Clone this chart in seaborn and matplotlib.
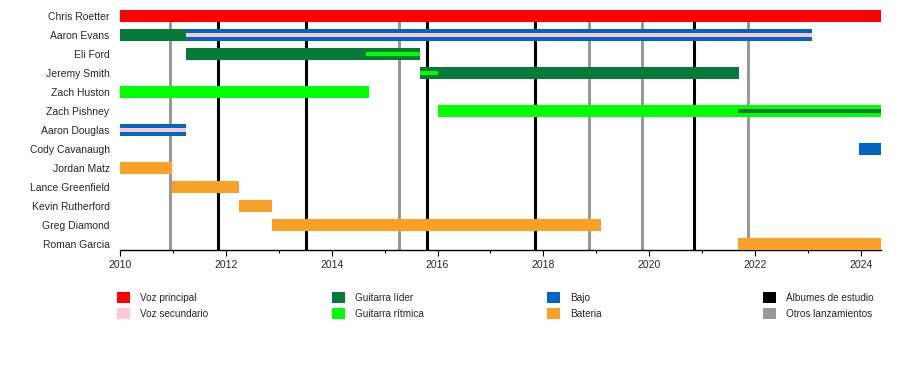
import matplotlib as mpl
import matplotlib.pyplot as plt
import seaborn as sns
from matplotlib.patches import Patch
from matplotlib.ticker import MultipleLocator

sns.set_theme(style="white")
plt.rcParams['font.family'] = ['Liberation Sans', 'DejaVu Sans']

# Members (top to bottom)
members = ["Chris Roetter", "Aaron Evans", "Eli Ford", "Jeremy Smith", "Zach Huston",
           "Zach Pishney", "Aaron Douglas", "Cody Cavanaugh", "Jordan Matz",
           "Lance Greenfield", "Kevin Rutherford", "Greg Diamond", "Roman Garcia"]

end_date = 2024.38

# Role bars: member, start, end, role, kind ("full" bar or thin "stripe" on top)
seg_member = ["Chris Roetter", "Aaron Evans", "Aaron Evans", "Aaron Evans",
              "Eli Ford", "Eli Ford", "Jeremy Smith", "Jeremy Smith",
              "Zach Huston", "Zach Pishney", "Zach Pishney",
              "Aaron Douglas", "Aaron Douglas", "Cody Cavanaugh",
              "Jordan Matz", "Lance Greenfield", "Kevin Rutherford",
              "Greg Diamond", "Roman Garcia"]
seg_start = [2010.0, 2010.0, 2011.25, 2011.25,
             2011.25, 2014.65, 2015.67, 2015.67,
             2010.0, 2016.0, 2021.68,
             2010.0, 2010.0, 2023.97,
             2010.0, 2010.98, 2012.25,
             2012.87, 2021.68]
seg_end = [end_date, 2011.25, 2023.08, 2023.08,
           2015.67, 2015.67, 2021.70, 2016.0,
           2014.71, end_date, end_date,
           2011.25, 2011.25, end_date,
           2010.98, 2012.25, 2012.87,
           2019.09, end_date]
seg_role = ["Voz principal", "Guitarra líder", "Bajo", "Voz secundario",
            "Guitarra líder", "Guitarra rítmica", "Guitarra líder", "Guitarra rítmica",
            "Guitarra rítmica", "Guitarra rítmica", "Guitarra líder",
            "Bajo", "Voz secundario", "Bajo",
            "Bateria", "Bateria", "Bateria",
            "Bateria", "Bateria"]
seg_kind = ["full", "full", "full", "stripe",
            "full", "stripe", "full", "stripe",
            "full", "full", "stripe",
            "full", "stripe", "full",
            "full", "full", "full",
            "full", "full"]

# Release lines
studio_albums = [2011.86, 2013.52, 2015.81, 2017.85, 2020.84]
other_releases = [2010.95, 2015.27, 2018.87, 2019.87, 2021.86]

role_colors = {
    "Voz principal": "#FF0000",
    "Voz secundario": "#FFC8CE",
    "Guitarra líder": "#067A38",
    "Guitarra rítmica": "#00FF00",
    "Bajo": "#0066C6",
    "Bateria": "#FBA026",
}
line_colors = {"Álbumes de estudio": "#000000", "Otros lanzamientos": "#999999"}

fig = plt.figure(figsize=(9, 3.7), dpi=100)
ax = fig.add_axes([120 / 900, 1 - 250 / 370, 761 / 900, 240 / 370])

ax.vlines(other_releases, -1, 13, color=line_colors["Otros lanzamientos"], lw=2.2, zorder=1)
ax.vlines(studio_albums, -1, 13, color=line_colors["Álbumes de estudio"], lw=2.2, zorder=1)

ypos = {m: i for i, m in enumerate(members)}
for m, s, e, r, k in zip(seg_member, seg_start, seg_end, seg_role, seg_kind):
    h = 0.63 if k == "full" else 0.25
    ax.barh(ypos[m], e - s, left=s, height=h, color=role_colors[r],
            linewidth=0, zorder=3 if k == "full" else 4)

ax.set_xlim(2010, end_date)
ax.set_ylim(12.32, -0.32)
ax.set_yticks(range(len(members)))
ax.set_yticklabels(members, fontsize=7.5)
ax.tick_params(axis="y", length=0, pad=7.5)
ax.xaxis.set_major_locator(MultipleLocator(2))
ax.xaxis.set_minor_locator(MultipleLocator(1))
ax.tick_params(axis="x", which="major", bottom=True, length=4, width=0.8,
               labelsize=7.5, pad=3, color="black")
ax.tick_params(axis="x", which="minor", bottom=True, length=2.5, width=0.8, color="black")
for side in ["top", "right", "left"]:
    ax.spines[side].set_visible(False)
ax.spines["bottom"].set_color("black")
ax.spines["bottom"].set_linewidth(1.0)
ax.grid(False)

# Legend in four columns
legend_cols = [["Voz principal", "Voz secundario"],
               ["Guitarra líder", "Guitarra rítmica"],
               ["Bajo", "Bateria"],
               ["Álbumes de estudio", "Otros lanzamientos"]]
all_colors = {**role_colors, **line_colors}
col_x = [117 / 900, 332 / 900, 547 / 900, 763 / 900]
for x, names in zip(col_x, legend_cols):
    handles = [Patch(facecolor=all_colors[n], edgecolor="none", label=n) for n in names]
    fig.legend(handles=handles, loc="upper left", bbox_to_anchor=(x, 1 - 292 / 370),
               frameon=False, fontsize=7.2, handlelength=1.27, handleheight=1.3,
               handletextpad=1.0, labelspacing=0.5, borderpad=0, borderaxespad=0)

fig.savefig("out.png", dpi=100)
